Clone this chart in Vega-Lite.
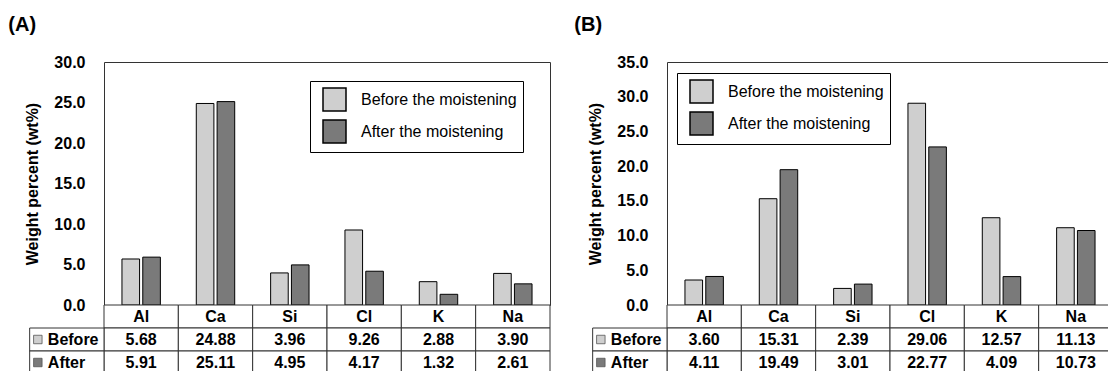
{
  "$schema": "https://vega.github.io/schema/vega-lite/v6.json",
  "background": "white",
  "padding": {"left": 8, "top": 14, "right": 0, "bottom": 0},
  "config": {
    "font": "Liberation Sans",
    "view": {"stroke": "#333", "strokeWidth": 1},
    "axis": {"labelColor": "black", "titleColor": "black"}
  },
  "datasets": {
    "a": [
      {"element": "Al", "state": "Before", "value": 5.68},
      {"element": "Al", "state": "After", "value": 5.91},
      {"element": "Ca", "state": "Before", "value": 24.88},
      {"element": "Ca", "state": "After", "value": 25.11},
      {"element": "Si", "state": "Before", "value": 3.96},
      {"element": "Si", "state": "After", "value": 4.95},
      {"element": "Cl", "state": "Before", "value": 9.26},
      {"element": "Cl", "state": "After", "value": 4.17},
      {"element": "K", "state": "Before", "value": 2.88},
      {"element": "K", "state": "After", "value": 1.32},
      {"element": "Na", "state": "Before", "value": 3.90},
      {"element": "Na", "state": "After", "value": 2.61}
    ],
    "b": [
      {"element": "Al", "state": "Before", "value": 3.60},
      {"element": "Al", "state": "After", "value": 4.11},
      {"element": "Ca", "state": "Before", "value": 15.31},
      {"element": "Ca", "state": "After", "value": 19.49},
      {"element": "Si", "state": "Before", "value": 2.39},
      {"element": "Si", "state": "After", "value": 3.01},
      {"element": "Cl", "state": "Before", "value": 29.06},
      {"element": "Cl", "state": "After", "value": 22.77},
      {"element": "K", "state": "Before", "value": 12.57},
      {"element": "K", "state": "After", "value": 4.09},
      {"element": "Na", "state": "Before", "value": 11.13},
      {"element": "Na", "state": "After", "value": 10.73}
    ]
  },
  "spacing": 23,
  "resolve": {"scale": {"x": "independent", "y": "independent", "color": "independent"}, "legend": {"color": "independent"}},
  "hconcat": [
    {
      "title": {"text": "(A)", "anchor": "start", "frame": "bounds", "fontSize": 20, "fontWeight": "bold", "dx": -16, "offset": 19, "color": "black"},
      "spacing": 0,
      "bounds": "flush",
      "resolve": {"scale": {"x": "independent", "y": "independent", "color": "independent"}, "legend": {"color": "independent"}},
      "vconcat": [
        {
          "width": 446,
          "height": 243,
          "data": {"name": "a"},
          "mark": {"type": "bar", "stroke": "black", "strokeWidth": 1},
          "encoding": {
            "x": {"field": "element", "type": "nominal", "sort": ["Al", "Ca", "Si", "Cl", "K", "Na"], "scale": {"paddingInner": 0, "paddingOuter": 0}, "axis": null},
            "xOffset": {"field": "state", "type": "nominal", "scale": {"domain": ["Before", "After"], "paddingInner": 0.154, "paddingOuter": 0.863}},
            "y": {"field": "value", "type": "quantitative", "scale": {"domain": [0, 30], "nice": false},
              "axis": {"title": "Weight percent (wt%)", "values": [0, 5, 10, 15, 20, 25, 30], "format": ".1f", "grid": false, "domain": false, "ticks": false, "labelFontSize": 16, "labelFontWeight": "bold", "labelPadding": 19, "titleFontSize": 16, "titleFontWeight": "bold", "titlePadding": 13}},
            "color": {"field": "state", "type": "nominal", "scale": {"domain": ["Before", "After"], "range": ["#cfcfcf", "#7a7a7a"]},
              "legend": {"title": null, "orient": "none", "legendX": 206, "legendY": 19, "direction": "vertical", "strokeColor": "black", "fillColor": "white", "padding": 6, "symbolType": "square", "symbolSize": 529, "symbolStrokeColor": "black", "symbolStrokeWidth": 1.5, "symbolOffset": 6, "labelFontSize": 16, "labelColor": "black", "labelOffset": 14, "rowPadding": 3, "labelExpr": "datum.label + ' the moistening'"}}
          }
        },
        {
          "width": 446,
          "height": 69,
          "view": {"stroke": null},
          "data": {"name": "a"},
          "layer": [
            {
              "transform": [{"filter": "datum.state == 'Before'"}],
              "mark": {"type": "rect", "fill": "white", "stroke": "#333", "strokeWidth": 1},
              "encoding": {
                "x": {"field": "element", "type": "nominal", "scale": {"domain": ["label", "Al", "Ca", "Si", "Cl", "K", "Na"], "range": [-74.333, 446], "paddingInner": 0, "paddingOuter": 0}, "axis": null},
                "y": {"datum": "hdr", "type": "nominal", "scale": {"domain": ["hdr", "Before", "After"], "paddingInner": 0, "paddingOuter": 0}, "axis": null}
              }
            },
            {
              "transform": [{"filter": "datum.state == 'Before'"}],
              "mark": {"type": "text", "fontSize": 16, "fontWeight": "bold", "color": "black", "baseline": "middle"},
              "encoding": {
                "x": {"field": "element", "type": "nominal"},
                "y": {"datum": "hdr", "type": "nominal"},
                "text": {"field": "element"}
              }
            },
            {
              "mark": {"type": "rect", "fill": "white", "stroke": "#333", "strokeWidth": 1},
              "encoding": {
                "x": {"field": "element", "type": "nominal"},
                "y": {"field": "state", "type": "nominal"}
              }
            },
            {
              "mark": {"type": "text", "fontSize": 16, "fontWeight": "bold", "color": "black", "baseline": "middle"},
              "encoding": {
                "x": {"field": "element", "type": "nominal"},
                "y": {"field": "state", "type": "nominal"},
                "text": {"field": "value", "type": "quantitative", "format": ".2f"}
              }
            },
            {
              "transform": [{"filter": "datum.element == 'Al'"}],
              "mark": {"type": "rect", "fill": "white", "stroke": "#333", "strokeWidth": 1},
              "encoding": {
                "x": {"datum": "label", "type": "nominal"},
                "y": {"field": "state", "type": "nominal"}
              }
            },
            {
              "transform": [{"filter": "datum.element == 'Al'"}],
              "mark": {"type": "point", "shape": "square", "filled": true, "size": 72, "xOffset": -29, "stroke": "#555", "strokeWidth": 0.8, "opacity": 1},
              "encoding": {
                "x": {"datum": "label", "type": "nominal"},
                "y": {"field": "state", "type": "nominal"},
                "color": {"field": "state", "type": "nominal", "scale": {"domain": ["Before", "After"], "range": ["#cfcfcf", "#7a7a7a"]}, "legend": null}
              }
            },
            {
              "transform": [{"filter": "datum.element == 'Al'"}],
              "mark": {"type": "text", "fontSize": 16, "fontWeight": "bold", "color": "black", "align": "left", "dx": -19, "baseline": "middle"},
              "encoding": {
                "x": {"datum": "label", "type": "nominal"},
                "y": {"field": "state", "type": "nominal"},
                "text": {"field": "state"}
              }
            }
          ]
        }
      ]
    },
    {
      "title": {"text": "(B)", "anchor": "start", "frame": "bounds", "fontSize": 20, "fontWeight": "bold", "dx": -13, "offset": 19, "color": "black"},
      "spacing": 0,
      "bounds": "flush",
      "resolve": {"scale": {"x": "independent", "y": "independent", "color": "independent"}, "legend": {"color": "independent"}},
      "vconcat": [
        {
          "width": 446,
          "height": 243,
          "data": {"name": "b"},
          "mark": {"type": "bar", "stroke": "black", "strokeWidth": 1},
          "encoding": {
            "x": {"field": "element", "type": "nominal", "sort": ["Al", "Ca", "Si", "Cl", "K", "Na"], "scale": {"paddingInner": 0, "paddingOuter": 0}, "axis": null},
            "xOffset": {"field": "state", "type": "nominal", "scale": {"domain": ["Before", "After"], "paddingInner": 0.154, "paddingOuter": 0.863}},
            "y": {"field": "value", "type": "quantitative", "scale": {"domain": [0, 35], "nice": false},
              "axis": {"title": "Weight percent (wt%)", "values": [0, 5, 10, 15, 20, 25, 30, 35], "format": ".1f", "grid": false, "domain": false, "ticks": false, "labelFontSize": 16, "labelFontWeight": "bold", "labelPadding": 19, "titleFontSize": 16, "titleFontWeight": "bold", "titlePadding": 13}},
            "color": {"field": "state", "type": "nominal", "scale": {"domain": ["Before", "After"], "range": ["#cfcfcf", "#7a7a7a"]},
              "legend": {"title": null, "orient": "none", "legendX": 10, "legendY": 11, "direction": "vertical", "strokeColor": "black", "fillColor": "white", "padding": 6, "symbolType": "square", "symbolSize": 529, "symbolStrokeColor": "black", "symbolStrokeWidth": 1.5, "symbolOffset": 6, "labelFontSize": 16, "labelColor": "black", "labelOffset": 14, "rowPadding": 3, "labelExpr": "datum.label + ' the moistening'"}}
          }
        },
        {
          "width": 446,
          "height": 69,
          "view": {"stroke": null},
          "data": {"name": "b"},
          "layer": [
            {
              "transform": [{"filter": "datum.state == 'Before'"}],
              "mark": {"type": "rect", "fill": "white", "stroke": "#333", "strokeWidth": 1},
              "encoding": {
                "x": {"field": "element", "type": "nominal", "scale": {"domain": ["label", "Al", "Ca", "Si", "Cl", "K", "Na"], "range": [-74.333, 446], "paddingInner": 0, "paddingOuter": 0}, "axis": null},
                "y": {"datum": "hdr", "type": "nominal", "scale": {"domain": ["hdr", "Before", "After"], "paddingInner": 0, "paddingOuter": 0}, "axis": null}
              }
            },
            {
              "transform": [{"filter": "datum.state == 'Before'"}],
              "mark": {"type": "text", "fontSize": 16, "fontWeight": "bold", "color": "black", "baseline": "middle"},
              "encoding": {
                "x": {"field": "element", "type": "nominal"},
                "y": {"datum": "hdr", "type": "nominal"},
                "text": {"field": "element"}
              }
            },
            {
              "mark": {"type": "rect", "fill": "white", "stroke": "#333", "strokeWidth": 1},
              "encoding": {
                "x": {"field": "element", "type": "nominal"},
                "y": {"field": "state", "type": "nominal"}
              }
            },
            {
              "mark": {"type": "text", "fontSize": 16, "fontWeight": "bold", "color": "black", "baseline": "middle"},
              "encoding": {
                "x": {"field": "element", "type": "nominal"},
                "y": {"field": "state", "type": "nominal"},
                "text": {"field": "value", "type": "quantitative", "format": ".2f"}
              }
            },
            {
              "transform": [{"filter": "datum.element == 'Al'"}],
              "mark": {"type": "rect", "fill": "white", "stroke": "#333", "strokeWidth": 1},
              "encoding": {
                "x": {"datum": "label", "type": "nominal"},
                "y": {"field": "state", "type": "nominal"}
              }
            },
            {
              "transform": [{"filter": "datum.element == 'Al'"}],
              "mark": {"type": "point", "shape": "square", "filled": true, "size": 72, "xOffset": -29, "stroke": "#555", "strokeWidth": 0.8, "opacity": 1},
              "encoding": {
                "x": {"datum": "label", "type": "nominal"},
                "y": {"field": "state", "type": "nominal"},
                "color": {"field": "state", "type": "nominal", "scale": {"domain": ["Before", "After"], "range": ["#cfcfcf", "#7a7a7a"]}, "legend": null}
              }
            },
            {
              "transform": [{"filter": "datum.element == 'Al'"}],
              "mark": {"type": "text", "fontSize": 16, "fontWeight": "bold", "color": "black", "align": "left", "dx": -19, "baseline": "middle"},
              "encoding": {
                "x": {"datum": "label", "type": "nominal"},
                "y": {"field": "state", "type": "nominal"},
                "text": {"field": "state"}
              }
            }
          ]
        }
      ]
    }
  ]
}
